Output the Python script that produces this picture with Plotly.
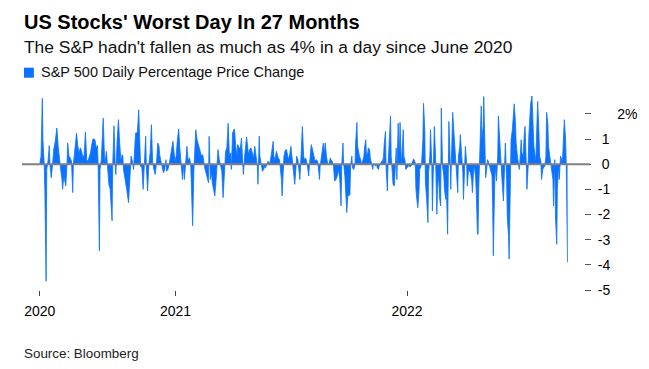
import pandas as pd
import plotly.graph_objects as go

# ---- data: S&P 500 daily % change ----
START = pd.Timestamp("2020-06-01")   # day offsets below are counted from this date

days_2020 = [0, 2, 4, 5, 7, 8, 10, 11, 13, 15, 16, 18, 20, 22, 24, 26, 27, 29, 31, 33, 35, 36, 38, 40, 41,
             43, 44, 46, 48, 50, 52, 53, 55, 58, 60, 62, 64, 66, 68, 70, 72, 74, 76, 78, 80, 82, 84, 87, 89,
             91, 92, 94, 95, 97, 100, 102, 103, 105, 107, 109, 111, 114, 115, 117, 119, 120, 122, 124, 126,
             128, 130, 131, 132, 135, 137, 140, 143, 144, 146, 148, 149, 151, 153, 154, 156, 158, 159, 161,
             163, 165, 167, 168, 170, 172, 174, 176, 178, 180, 182, 184, 186, 188, 189, 191, 193, 195, 197,
             199, 200, 202, 204, 206, 208, 210, 213]
pct_2020 = [0.00, 0.32, 2.62, 0.97, 0.00, -1.00, -4.65, -0.21, 0.12, 0.74, 0.05, -0.54, -0.08, 0.58, 0.84,
            1.30, 1.44, 0.71, 0.12, -0.21, -0.61, -1.00, -0.47, -0.67, -0.87, 0.05, 0.84, 0.32, 0.25, 0.12,
            -1.13, 0.00, 0.58, 1.24, 0.71, 0.45, 0.65, 0.51, 0.25, 0.38, 1.28, 0.18, 0.12, 0.32, 0.45, 0.78,
            1.01, 0.97, 0.65, 0.74, 0.00, -3.44, -0.21, 0.18, 1.83, 0.32, 0.05, 0.51, -0.21, -0.80, -1.00,
            -2.25, -0.08, 1.53, -0.08, -0.41, 0.97, 1.77, 0.84, 0.12, 0.38, 0.32, -0.21, -0.61, -1.00, -1.53,
            -0.08, 0.32, 0.12, -0.21, 0.32, 1.24, 1.24, 1.30, 2.16, 0.58, -0.08, -0.14, -1.00, 0.05, 1.11,
            -0.08, -1.07, 0.00, 0.45, 1.57, 0.05, -0.21, -0.41, 0.05, 0.84, 0.71, 0.38, 0.12, -0.14, -0.34,
            -0.21, 0.18, -0.28, -0.21, 0.00, 0.32, 0.65, 0.91, 0.12]

days_2021 = [215, 217, 219, 221, 223, 225, 227, 228, 230, 232, 234, 236, 238, 239, 241, 243, 244, 246, 248,
             250, 252, 255, 257, 258, 260, 262, 264, 266, 267, 269, 271, 272, 274, 276, 278, 279, 281, 283,
             285, 287, 289, 291, 293, 295, 297, 299, 301, 302, 304, 306, 307, 309, 311, 312, 314, 316, 318,
             319, 321, 323, 325, 326, 328, 329, 331, 333, 335, 337, 339, 341, 343, 344, 346, 347, 349, 351,
             353, 355, 356, 358, 360, 361, 363, 365, 368, 369, 371, 373, 374, 376, 378, 379, 381, 382, 384,
             385, 387, 389, 391, 392, 394, 396, 397, 399, 401, 402, 404, 405, 407, 408, 410, 412, 413, 414,
             416, 417, 419, 420, 422, 424, 425, 427, 428, 430, 431, 433, 434, 436, 438, 439, 441, 442, 444,
             446, 447, 449, 450, 452, 454, 456, 458, 459, 461, 463, 465, 467, 469, 471, 473, 475, 476, 478,
             479, 481, 483, 484, 486, 487, 489, 490, 492, 493, 495, 497, 498, 500, 501, 503, 504, 506, 507,
             509, 511, 512, 514, 515, 517, 518, 520, 521, 523, 525, 526, 528, 529, 531, 532, 534, 535, 537,
             539, 540, 542, 543, 545, 546, 548, 549, 551, 553, 554, 556, 557, 559, 560, 562, 563, 565, 567,
             568, 570, 571, 573, 574, 576, 577]
pct_2021 = [0.32, 0.97, 1.40, 0.58, -0.08, -0.61, 0.00, -0.61, 0.05, 0.71, 0.12, 0.25, 0.00, -1.00, -2.45,
            -0.21, 0.32, 1.37, 0.97, 0.78, 0.58, 0.32, 0.38, 0.12, -0.14, -0.34, -0.61, -0.74, 1.11, -0.61,
            -0.34, -0.74, -1.00, -1.26, -0.61, -0.21, 0.58, 0.18, 0.00, -0.28, -1.33, -0.21, 0.51, 0.65,
            1.63, 0.32, 0.45, -0.21, 1.24, 1.37, 1.40, 0.71, 0.32, 0.78, 0.65, 0.58, 1.04, 0.32, -0.41, 0.32,
            1.04, 1.08, 0.65, 0.38, 0.58, 0.65, 0.45, 0.25, 0.71, 0.32, -0.08, -0.80, 1.11, 0.32, 0.00,
            -0.28, -0.21, -0.08, -0.14, 0.00, 0.12, 0.05, 0.05, 0.38, 0.91, 0.32, 0.18, 0.51, 0.38, 0.25,
            0.18, -0.08, -0.61, -1.26, -0.21, 0.32, 0.55, 0.58, 0.32, 0.18, 0.38, 0.71, 0.45, -0.08, -0.34,
            -0.80, -0.08, 0.32, 0.18, -0.08, -0.61, 0.38, 1.11, 1.50, 0.32, 0.18, 0.25, 0.18, -0.08, -0.47,
            -0.08, 0.65, 0.78, 0.58, 0.45, 0.18, 0.12, 0.18, 0.12, -0.08, -0.61, -0.08, 0.32, 0.71, 0.84,
            0.45, 0.84, 0.32, 0.00, 0.00, 0.25, 0.18, 0.12, -0.08, -0.67, -0.61, -0.47, -0.21, -0.61, -1.66,
            -0.08, 0.84, 0.05, -0.47, -1.40, -1.92, -1.13, -1.26, -1.20, -0.08, 0.32, -0.14, -0.21, 0.00,
            0.84, 1.66, 0.71, 0.38, 0.32, 0.18, 0.00, 0.12, 0.32, 0.65, 0.97, 0.32, 0.45, 0.65, 0.58, 0.25,
            0.05, -0.21, 0.00, 0.00, -0.08, 0.00, -0.14, -0.21, -0.08, 0.00, 0.12, 0.05, 0.32, 0.78, 1.30,
            -0.14, -1.07, -0.08, 0.97, 1.92, 0.32, -0.61, -0.80, -0.87, -0.08, 0.65, -0.61, 1.63, 0.32,
            1.66, 0.05, 0.32, 1.37, 0.32, 0.12, -0.21]

days_2022 = [579, 581, 582, 584, 585, 587, 589, 590, 592, 593, 595, 596, 598, 599, 601, 602, 604, 605, 607,
             608, 610, 612, 613, 615, 616, 618, 619, 621, 622, 624, 625, 626, 627, 629, 630, 632, 633, 635,
             637, 638, 640, 641, 643, 644, 645, 647, 648, 649, 651, 653, 654, 656, 657, 659, 660, 662, 663,
             665, 667, 668, 670, 671, 673, 674, 676, 677, 679, 681, 682, 684, 685, 687, 688, 690, 691, 692,
             694, 696, 697, 699, 700, 702, 703, 705, 706, 708, 710, 711, 713, 714, 715, 717, 718, 720, 722,
             723, 725, 726, 728, 729, 731, 732, 734, 736, 737, 739, 740, 742, 743, 745, 746, 748, 750, 751,
             753, 754, 756, 757, 759, 760, 762, 764, 765, 767, 768, 770, 771, 773, 774, 776, 778, 779, 781,
             782, 784, 785, 787, 788, 790, 791, 793, 795, 796, 798, 799, 801, 802, 804, 805, 807, 809, 810,
             812, 813, 815, 816, 818, 819, 821, 823, 824, 826, 827, 829, 830, 832]
pct_2022 = [-0.14, -0.08, -0.05, -0.11, -0.08, 0.00, 0.21, 0.18, 0.05, -1.00, -1.53, -1.73, -1.00, -0.21,
            -0.08, 0.05, 0.97, 2.42, 1.37, -0.74, -1.40, -2.32, -0.34, 0.32, 1.37, 0.05, -1.86, -0.08, 1.50,
            0.32, -0.61, -1.99, -1.00, -0.34, -1.26, -1.66, 2.23, -0.08, -0.47, -1.00, -1.40, -0.87, -2.78,
            -0.47, 1.70, 0.12, -1.00, 0.18, 2.06, 1.24, 0.84, 0.32, 0.00, -1.13, 0.32, 0.65, 1.17, 0.45,
            -0.34, -1.40, -0.08, 0.71, 0.05, -0.87, -0.21, -0.28, -0.34, -0.67, -1.13, -0.21, -0.08, -0.47,
            -1.00, -2.78, -2.78, -1.00, 0.32, 2.32, 0.97, 1.50, 2.69, 0.71, -0.54, -0.08, 0.18, 0.05, -0.14,
            -0.21, -0.47, -1.66, -3.64, -1.00, -0.08, -0.67, 0.32, 1.92, 0.84, 0.32, -0.14, -0.74, -1.46,
            -0.47, 0.84, -0.61, -2.06, -2.85, -3.77, -0.61, 0.97, 1.37, 1.77, 2.40, 1.63, 0.84, 0.32, 0.12,
            -0.21, 0.12, 0.97, 0.45, 0.32, 1.24, 1.50, 0.05, -1.00, -0.08, 1.11, 2.03, 2.42, 2.71, 0.97,
            0.71, 0.32, 0.05, 1.77, 2.49, 1.24, 0.32, 0.12, -0.61, -0.21, -0.08, -0.11, 0.32, 2.06, 1.63,
            0.71, 0.32, 0.12, -0.08, -0.61, -1.66, 0.18, -2.06, -3.18, -1.00, -0.08, -0.61, 0.32, 0.18, 0.05,
            1.24, 1.77, 0.97, 0.00, -3.90]

y_tickvals = [2, 1, 0, -1, -2, -3, -4, -5]
y_ticktext = ["\u00a0\u00a0\u00a0\u00a0\u00a02%", "\u00a01", "\u00a00", "-1", "-2", "-3", "-4", "-5"]
x_tickvals = ["2020-06-01", "2021-01-01", "2022-01-01"]
x_ticktext = ["2020", "2021", "2022"]

TITLE = "US Stocks' Worst Day In 27 Months"
SUBTITLE = "The S&P hadn't fallen as much as 4% in a day since June 2020"
SERIES_NAME = "S&P 500 Daily Percentage Price Change"
SOURCE = "Source: Bloomberg"

# ---- build ----
days = days_2020 + days_2021 + days_2022
pct = pct_2020 + pct_2021 + pct_2022
dates = START + pd.to_timedelta(days, unit="D")

BLUE = "#0a72ff"
FONT = "Liberation Sans, Arial, Helvetica, sans-serif"

fig = go.Figure(
    go.Scatter(
        x=dates, y=pct, mode="lines", name=SERIES_NAME,
        line=dict(color=BLUE, width=0.8), fill="tozeroy", fillcolor=BLUE,
        hoverinfo="skip",
    )
)

fig.update_layout(
    width=649, height=369,
    margin=dict(l=22, r=57, t=95, b=79),
    plot_bgcolor="white", paper_bgcolor="white",
    showlegend=False,
    font=dict(family=FONT, color="#000000"),
)

fig.update_xaxes(
    type="date", range=["2020-05-04", "2022-10-07"],
    tickmode="array", tickvals=x_tickvals, ticktext=x_ticktext,
    ticks="outside", ticklen=5, tickwidth=1, tickcolor="#444444",
    tickfont=dict(size=14, color="#000000"), ticklabelstandoff=3,
    showgrid=False, zeroline=False, showline=False,
)

fig.update_yaxes(
    side="right", range=[-5, 2.75],
    tickmode="array", tickvals=y_tickvals, ticktext=y_ticktext,
    ticks="outside", ticklen=6, tickwidth=1, tickcolor="#555555",
    tickfont=dict(size=14, color="#000000"), ticklabelstandoff=4,
    showgrid=False, zeroline=False, showline=False,
)

# zero line (drawn over the area, extending into the tick column)
fig.add_shape(type="line", xref="paper", yref="y", x0=0, x1=1.0105, y0=0, y1=0,
              line=dict(color="#808080", width=2), layer="above")

# legend swatch
fig.add_shape(type="rect", xref="paper", yref="paper", x0=0.0035, x1=0.0211, y0=1.0887, y1=1.14,
              fillcolor=BLUE, line=dict(width=0))

annotations = [
    dict(text="<b>" + TITLE + "</b>", x=0, y=1.3744, size=20, color="#000000"),
    dict(text=SUBTITLE, x=0, y=1.2436, size=17.4, color="#111111"),
    dict(text=SERIES_NAME, x=0.0298, y=1.1179, size=14.5, color="#111111"),
    dict(text=SOURCE, x=0, y=-0.3231, size=13.4, color="#222222"),
]
for a in annotations:
    fig.add_annotation(
        text=a["text"], xref="paper", yref="paper", x=a["x"], y=a["y"],
        xanchor="left", yanchor="middle", showarrow=False,
        font=dict(size=a["size"], color=a["color"], family=FONT),
    )

fig.write_html(
    "out.html",
    include_plotlyjs=True,
    config={"displayModeBar": False, "staticPlot": True},
    post_script="document.body.style.margin='0';document.body.style.padding='0';",
)
